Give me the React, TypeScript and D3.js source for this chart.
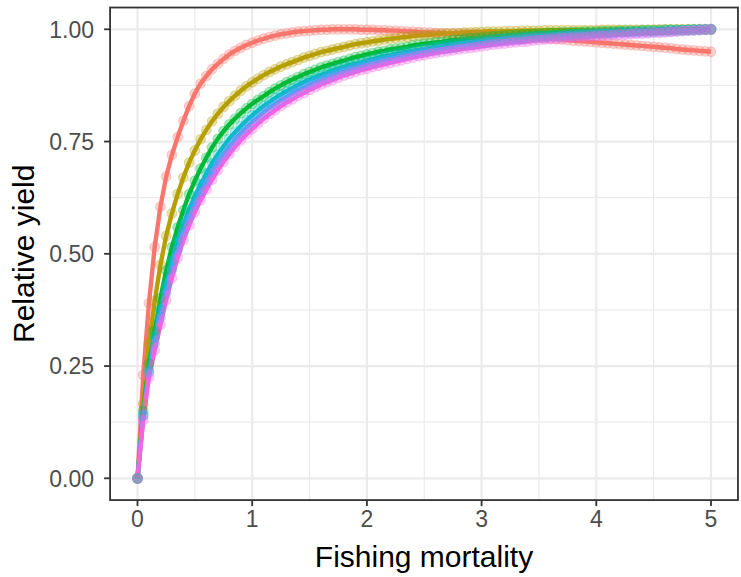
import React from "react";
import * as d3 from "d3";

const F = [0,0.05,0.1,0.15,0.2,0.25,0.3,0.35,0.4,0.45,0.5,0.55,0.6,0.65,0.7,0.75,0.8,0.85,0.9,0.95,1,1.05,1.1,1.15,1.2,1.25,1.3,1.35,1.4,1.45,1.5,1.55,1.6,1.65,1.7,1.75,1.8,1.85,1.9,1.95,2,2.05,2.1,2.15,2.2,2.25,2.3,2.35,2.4,2.45,2.5,2.55,2.6,2.65,2.7,2.75,2.8,2.85,2.9,2.95,3,3.05,3.1,3.15,3.2,3.25,3.3,3.35,3.4,3.45,3.5,3.55,3.6,3.65,3.7,3.75,3.8,3.85,3.9,3.95,4,4.05,4.1,4.15,4.2,4.25,4.3,4.35,4.4,4.45,4.5,4.55,4.6,4.65,4.7,4.75,4.8,4.85,4.9,4.95,5];

const red = [0,0.23,0.39,0.515,0.605,0.672,0.72,0.76,0.796,0.829,0.857,0.879,0.896,0.911,0.923,0.934,0.944,0.952,0.959,0.965,0.970,0.975,0.979,0.983,0.986,0.989,0.991,0.993,0.995,0.996,0.997,0.998,0.999,0.999,1.000,1.000,1.000,1.000,1.000,0.999,0.999,0.999,0.998,0.998,0.997,0.997,0.996,0.995,0.995,0.994,0.993,0.993,0.992,0.992,0.991,0.991,0.990,0.990,0.989,0.989,0.988,0.987,0.987,0.986,0.985,0.985,0.984,0.983,0.982,0.982,0.981,0.980,0.979,0.978,0.977,0.976,0.975,0.974,0.973,0.972,0.971,0.970,0.969,0.968,0.967,0.966,0.965,0.964,0.963,0.962,0.961,0.960,0.959,0.958,0.956,0.955,0.954,0.953,0.952,0.951,0.950];

const olive = [0,0.165,0.30,0.395,0.475,0.54,0.59,0.633,0.67,0.703,0.73,0.755,0.776,0.795,0.812,0.827,0.84,0.852,0.863,0.873,0.882,0.890,0.898,0.905,0.911,0.917,0.922,0.927,0.932,0.937,0.941,0.945,0.949,0.952,0.955,0.958,0.961,0.964,0.967,0.969,0.971,0.973,0.975,0.977,0.979,0.980,0.982,0.983,0.985,0.986,0.987,0.988,0.989,0.990,0.991,0.991,0.992,0.993,0.993,0.994,0.994,0.995,0.995,0.995,0.996,0.996,0.996,0.997,0.997,0.997,0.997,0.998,0.998,0.998,0.998,0.998,0.998,0.998,0.998,0.998,0.998,0.999,0.999,0.999,0.999,0.999,0.999,0.999,0.999,0.999,0.999,1,1,1,1,1,1,1,1,1,1];

const green = [0,0.15,0.255,0.329,0.401,0.463,0.515,0.559,0.597,0.633,0.663,0.69,0.714,0.737,0.756,0.773,0.788,0.801,0.813,0.824,0.834,0.843,0.851,0.860,0.868,0.875,0.882,0.888,0.894,0.900,0.905,0.910,0.915,0.919,0.923,0.927,0.930,0.934,0.938,0.941,0.944,0.947,0.950,0.952,0.955,0.957,0.959,0.961,0.964,0.966,0.968,0.969,0.971,0.972,0.974,0.976,0.977,0.979,0.980,0.981,0.982,0.983,0.984,0.985,0.986,0.987,0.988,0.989,0.989,0.990,0.991,0.991,0.992,0.992,0.993,0.993,0.994,0.994,0.995,0.995,0.995,0.996,0.996,0.996,0.997,0.997,0.997,0.997,0.998,0.998,0.998,0.998,0.999,0.999,0.999,0.999,0.999,1,1,1,1];

const teal = [0,0.14,0.24,0.315,0.376,0.431,0.484,0.529,0.566,0.599,0.629,0.655,0.679,0.702,0.721,0.739,0.756,0.770,0.784,0.797,0.808,0.819,0.829,0.838,0.847,0.855,0.862,0.869,0.876,0.882,0.888,0.893,0.898,0.903,0.908,0.912,0.916,0.920,0.923,0.926,0.930,0.933,0.937,0.940,0.942,0.945,0.948,0.950,0.952,0.954,0.956,0.958,0.961,0.963,0.965,0.967,0.968,0.970,0.971,0.972,0.974,0.975,0.977,0.978,0.979,0.980,0.981,0.982,0.983,0.984,0.985,0.986,0.987,0.987,0.988,0.989,0.989,0.990,0.991,0.991,0.992,0.992,0.993,0.993,0.994,0.994,0.995,0.995,0.996,0.996,0.996,0.997,0.997,0.998,0.998,0.998,0.999,0.999,0.999,1,1];

const blue = [0,0.14,0.235,0.30,0.358,0.413,0.465,0.509,0.548,0.580,0.609,0.637,0.660,0.683,0.704,0.721,0.738,0.754,0.768,0.781,0.793,0.804,0.815,0.825,0.833,0.842,0.849,0.857,0.864,0.870,0.876,0.882,0.887,0.892,0.897,0.902,0.906,0.910,0.914,0.918,0.921,0.924,0.928,0.931,0.934,0.937,0.940,0.942,0.945,0.947,0.950,0.952,0.953,0.956,0.957,0.959,0.961,0.963,0.965,0.967,0.968,0.970,0.971,0.972,0.974,0.975,0.976,0.977,0.979,0.980,0.981,0.981,0.982,0.983,0.984,0.985,0.986,0.987,0.987,0.988,0.989,0.989,0.990,0.990,0.991,0.991,0.992,0.992,0.993,0.993,0.994,0.994,0.995,0.995,0.996,0.997,0.997,0.998,0.999,0.999,1];

const magenta = [0,0.13,0.225,0.285,0.342,0.397,0.446,0.491,0.530,0.563,0.593,0.619,0.643,0.665,0.686,0.705,0.722,0.738,0.753,0.766,0.778,0.790,0.801,0.811,0.820,0.829,0.837,0.844,0.852,0.858,0.865,0.871,0.877,0.882,0.887,0.892,0.897,0.901,0.905,0.909,0.912,0.916,0.919,0.922,0.925,0.928,0.931,0.934,0.937,0.940,0.942,0.945,0.947,0.949,0.951,0.953,0.955,0.957,0.958,0.960,0.962,0.964,0.966,0.967,0.968,0.970,0.971,0.972,0.973,0.975,0.976,0.977,0.978,0.979,0.980,0.981,0.982,0.982,0.983,0.984,0.985,0.986,0.986,0.987,0.988,0.988,0.989,0.990,0.990,0.991,0.992,0.992,0.993,0.994,0.995,0.996,0.997,0.997,0.998,0.999,1];

const seriesValues = [red, olive, green, teal, blue, magenta];
const seriesColors = ["#F8766D", "#B79F00", "#00BA38", "#00BFC4", "#619CFF", "#F564E3"];

const xTicks = [0, 1, 2, 3, 4, 5];
const xMinor = [0.5, 1.5, 2.5, 3.5, 4.5];
const yTicks = [0, 0.25, 0.5, 0.75, 1];
const yMinor = [0.125, 0.375, 0.625, 0.875];
const xTitle = "Fishing mortality";
const yTitle = "Relative yield";

export default function App() {
  const W = 741, H = 577;
  const x = d3.scaleLinear().domain([0, 5]).range([137.5, 711]);
  const y = d3.scaleLinear().domain([0, 1]).range([478.3, 29.3]);
  const px0 = x(-0.239), px1 = x(5.235);
  const py0 = y(1.0485), py1 = y(-0.0485);
  const line = d3.line<number>().x((_, i) => x(F[i])).y((d) => y(d));
  const font = "Arial, 'Liberation Sans', sans-serif";
  return (
    <svg width={W} height={H} style={{ position: "absolute", left: 0, top: 0, background: "#fff" }}>
      <rect x={0} y={0} width={W} height={H} fill="#fff" />
      <g>
        {xMinor.map((v) => (
          <line key={"xm" + v} x1={x(v)} x2={x(v)} y1={py0} y2={py1} stroke="#EBEBEB" strokeWidth={1.2} />
        ))}
        {yMinor.map((v) => (
          <line key={"ym" + v} x1={px0} x2={px1} y1={y(v)} y2={y(v)} stroke="#EBEBEB" strokeWidth={1.2} />
        ))}
        {xTicks.map((v) => (
          <line key={"xg" + v} x1={x(v)} x2={x(v)} y1={py0} y2={py1} stroke="#EBEBEB" strokeWidth={2.2} />
        ))}
        {yTicks.map((v) => (
          <line key={"yg" + v} x1={px0} x2={px1} y1={y(v)} y2={y(v)} stroke="#EBEBEB" strokeWidth={2.2} />
        ))}
      </g>
      <g>
        {seriesValues.map((vals, s) => (
          <path key={"l" + s} d={line(vals) || ""} fill="none" stroke={seriesColors[s]} strokeWidth={4.4} strokeLinejoin="round" />
        ))}
      </g>
      <g>
        {seriesValues.map((vals, s) => (
          <g key={"p" + s}>
            {vals.map((v, i) => (
              <circle key={i} cx={x(F[i])} cy={y(v)} r={4.9} fill={seriesColors[s]} fillOpacity={0.3}
                stroke={seriesColors[s]} strokeOpacity={0.3} strokeWidth={1.1} />
            ))}
          </g>
        ))}
      </g>
      <rect x={px0} y={py0} width={px1 - px0} height={py1 - py0} fill="none" stroke="#333333" strokeWidth={1.8} />
      <g>
        {xTicks.map((v) => (
          <g key={"xt" + v}>
            <line x1={x(v)} x2={x(v)} y1={py1} y2={py1 + 6} stroke="#333333" strokeWidth={1.8} />
            <text x={x(v)} y={527} textAnchor="middle" fontFamily={font} fontSize={23} fill="#4D4D4D">{v}</text>
          </g>
        ))}
        {yTicks.map((v) => (
          <g key={"yt" + v}>
            <line x1={px0 - 6} x2={px0} y1={y(v)} y2={y(v)} stroke="#333333" strokeWidth={1.8} />
            <text x={94} y={y(v) + 8.2} textAnchor="end" fontFamily={font} fontSize={23} fill="#4D4D4D">{v.toFixed(2)}</text>
          </g>
        ))}
      </g>
      <text x={(px0 + px1) / 2} y={567} textAnchor="middle" fontFamily={font} fontSize={30} fill="#000">{xTitle}</text>
      <text transform={`translate(34,${(py0 + py1) / 2}) rotate(-90)`} textAnchor="middle" fontFamily={font} fontSize={30} fill="#000">{yTitle}</text>
    </svg>
  );
}
